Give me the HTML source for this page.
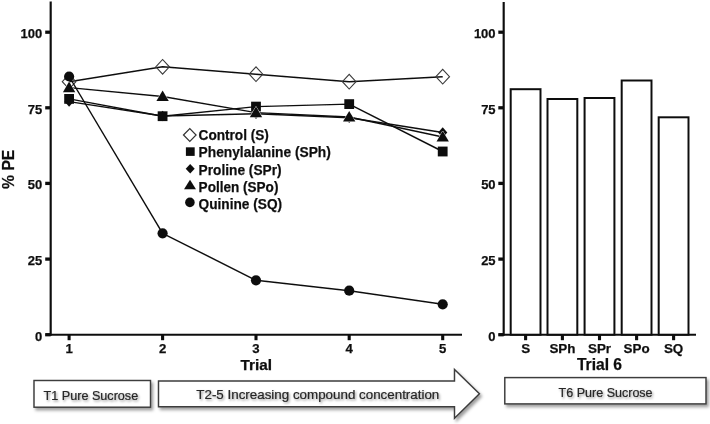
<!DOCTYPE html>
<html><head><meta charset="utf-8"><title>PE chart</title>
<style>
html,body{margin:0;padding:0;background:#fff;}
body{width:710px;height:424px;overflow:hidden;}
svg{display:block;}
text{font-family:"Liberation Sans",sans-serif;}
.b{font-weight:bold;fill:#111;stroke:#111;stroke-width:0.25px;}
.box{fill:#fff;stroke:#3c3c3c;stroke-width:1.45;}
.cap{fill:#262626;font-size:12.6px;stroke:#262626;stroke-width:0.2px;}
</style></head><body>
<svg width="710" height="424" viewBox="0 0 710 424">
<defs>
<filter id="sh" x="-10%" y="-30%" width="125%" height="170%"><feDropShadow dx="2" dy="2.5" stdDeviation="1.8" flood-color="#000" flood-opacity="0.38"/></filter>
<filter id="ts" x="-10%" y="-30%" width="125%" height="170%"><feDropShadow dx="1.2" dy="1.5" stdDeviation="1.1" flood-color="#000" flood-opacity="0.4"/></filter>
<filter id="soft"><feGaussianBlur stdDeviation="0.35"/></filter>
</defs>
<rect width="710" height="424" fill="#fff"/>
<g filter="url(#soft)">

<g stroke="#111" stroke-width="2.15" fill="none">
<path d="M50.7,1.5 V335.7"/>
<path d="M45.5,334.7 H462"/>
<path d="M45.2,334.7 H50.7" stroke-width="3.3"/>
<path d="M45.2,259.1 H50.7" stroke-width="3.3"/>
<path d="M45.2,183.4 H50.7" stroke-width="3.3"/>
<path d="M45.2,107.8 H50.7" stroke-width="3.3"/>
<path d="M45.2,32.2 H50.7" stroke-width="3.3"/>
<path d="M69.1,334.7 V340.2" stroke-width="3.1"/>
<path d="M162.6,334.7 V340.2" stroke-width="3.1"/>
<path d="M256.0,334.7 V340.2" stroke-width="3.1"/>
<path d="M349.2,334.7 V340.2" stroke-width="3.1"/>
<path d="M442.7,334.7 V340.2" stroke-width="3.1"/>
</g>
<text class="b" x="42.3" y="340.5" font-size="13" text-anchor="end">0</text>
<text class="b" x="42.3" y="264.9" font-size="13" text-anchor="end">25</text>
<text class="b" x="42.3" y="189.2" font-size="13" text-anchor="end">50</text>
<text class="b" x="42.3" y="113.6" font-size="13" text-anchor="end">75</text>
<text class="b" x="42.3" y="38.0" font-size="13" text-anchor="end">100</text>
<text class="b" x="69.1" y="353.3" font-size="13.2" text-anchor="middle">1</text>
<text class="b" x="162.6" y="353.3" font-size="13.2" text-anchor="middle">2</text>
<text class="b" x="256.0" y="353.3" font-size="13.2" text-anchor="middle">3</text>
<text class="b" x="349.2" y="353.3" font-size="13.2" text-anchor="middle">4</text>
<text class="b" x="442.7" y="353.3" font-size="13.2" text-anchor="middle">5</text>
<text class="b" x="256.3" y="370.2" font-size="15.3" text-anchor="middle">Trial</text>
<text class="b" transform="translate(14.2,169.3) rotate(-90)" font-size="15.7" text-anchor="middle">% PE</text>
<g fill="#111" stroke="none">
<polyline points="69.1,81.7 162.6,66.8 256.0,74.2 349.2,81.7 442.7,76.7" fill="none" stroke="#111" stroke-width="1.45" stroke-linejoin="round"/>
<path d="M62.3,81.7 L69.1,74.4 L75.89999999999999,81.7 L69.1,89.0 Z" fill="none" stroke="#3a3a3a" stroke-width="1.1"/>
<path d="M155.79999999999998,66.8 L162.6,59.5 L169.4,66.8 L162.6,74.1 Z" fill="none" stroke="#3a3a3a" stroke-width="1.1"/>
<path d="M249.2,74.2 L256.0,66.9 L262.8,74.2 L256.0,81.5 Z" fill="none" stroke="#3a3a3a" stroke-width="1.1"/>
<path d="M342.4,81.7 L349.2,74.4 L356.0,81.7 L349.2,89.0 Z" fill="none" stroke="#3a3a3a" stroke-width="1.1"/>
<path d="M435.9,76.7 L442.7,69.4 L449.5,76.7 L442.7,84.0 Z" fill="none" stroke="#3a3a3a" stroke-width="1.1"/>
<polyline points="69.1,98.9 162.6,116.2 256.0,106.6 349.2,104.1 442.7,151.5" fill="none" stroke="#111" stroke-width="1.45" stroke-linejoin="round"/>
<rect x="64.2" y="94.0" width="9.8" height="9.8"/>
<rect x="157.7" y="111.3" width="9.8" height="9.8"/>
<rect x="251.1" y="101.7" width="9.8" height="9.8"/>
<rect x="344.3" y="99.2" width="9.8" height="9.8"/>
<rect x="437.8" y="146.6" width="9.8" height="9.8"/>
<polyline points="69.1,101.6 162.6,116.0 256.0,113.8 349.2,117.8 442.7,132.5" fill="none" stroke="#111" stroke-width="1.45" stroke-linejoin="round"/>
<path d="M64.5,101.6 L69.1,96.39999999999999 L73.69999999999999,101.6 L69.1,106.8 Z"/>
<path d="M158.0,116.0 L162.6,110.8 L167.2,116.0 L162.6,121.2 Z"/>
<path d="M251.4,113.8 L256.0,108.6 L260.6,113.8 L256.0,119.0 Z"/>
<path d="M344.59999999999997,117.8 L349.2,112.6 L353.8,117.8 L349.2,123.0 Z"/>
<path d="M438.09999999999997,132.5 L442.7,127.3 L447.3,132.5 L442.7,137.7 Z"/>
<polyline points="69.1,87.6 162.6,96.5 256.0,112.6 349.2,117.0 442.7,137.0" fill="none" stroke="#111" stroke-width="1.45" stroke-linejoin="round"/>
<path d="M62.9,92.2 L69.1,81.6 L75.3,92.2 Z" stroke="#fff" stroke-width="0.9" paint-order="stroke"/>
<path d="M156.4,101.1 L162.6,90.5 L168.8,101.1 Z" stroke="#fff" stroke-width="0.9" paint-order="stroke"/>
<path d="M249.8,117.2 L256.0,106.6 L262.2,117.2 Z" stroke="#fff" stroke-width="0.9" paint-order="stroke"/>
<path d="M343.0,121.6 L349.2,111.0 L355.4,121.6 Z" stroke="#fff" stroke-width="0.9" paint-order="stroke"/>
<path d="M436.5,141.6 L442.7,131.0 L448.9,141.6 Z" stroke="#fff" stroke-width="0.9" paint-order="stroke"/>
<polyline points="69.1,76.5 162.6,233.3 256.0,280.3 349.2,290.7 442.7,304.3" fill="none" stroke="#111" stroke-width="1.45" stroke-linejoin="round"/>
<circle cx="69.1" cy="76.5" r="5.1"/>
<circle cx="162.6" cy="233.3" r="5.1"/>
<circle cx="256.0" cy="280.3" r="5.1"/>
<circle cx="349.2" cy="290.7" r="5.1"/>
<circle cx="442.7" cy="304.3" r="5.1"/>
</g>
<path d="M183.5,135.0 L189.8,128.6 L196.10000000000002,135.0 L189.8,141.4 Z" fill="#fff" stroke="#333" stroke-width="1.2"/>
<rect x="185.9" y="147.3" width="8.8" height="8.6" fill="#111"/>
<path d="M185.7,168.8 L190.2,164.10000000000002 L194.7,168.8 L190.2,173.5 Z" fill="#111"/>
<path d="M184.0,189.2 L190.0,179.7 L196.0,189.2 Z" fill="#111"/>
<circle cx="189.89999999999998" cy="202.4" r="4.8" fill="#111"/>
<text class="b" x="198.6" y="140.0" font-size="14" textLength="70.3" lengthAdjust="spacingAndGlyphs">Control (S)</text>
<text class="b" x="198.6" y="156.9" font-size="14" textLength="132.2" lengthAdjust="spacingAndGlyphs">Phenylalanine (SPh)</text>
<text class="b" x="198.6" y="174.7" font-size="14" textLength="83" lengthAdjust="spacingAndGlyphs">Proline (SPr)</text>
<text class="b" x="198.6" y="192.2" font-size="14" textLength="79.8" lengthAdjust="spacingAndGlyphs">Pollen (SPo)</text>
<text class="b" x="198.6" y="209.0" font-size="14" textLength="83.5" lengthAdjust="spacingAndGlyphs">Quinine (SQ)</text>
<g stroke="#111" stroke-width="2.15" fill="none">
<path d="M503.7,2 V335.7"/>
<path d="M498.6,334.7 H696"/>
<path d="M498.3,334.7 H503.7" stroke-width="3.3"/>
<path d="M498.3,259.1 H503.7" stroke-width="3.3"/>
<path d="M498.3,183.4 H503.7" stroke-width="3.3"/>
<path d="M498.3,107.8 H503.7" stroke-width="3.3"/>
<path d="M498.3,32.2 H503.7" stroke-width="3.3"/>
<path d="M525.6,334.7 V340.2" stroke-width="3.1"/>
<path d="M562.4,334.7 V340.2" stroke-width="3.1"/>
<path d="M599.5,334.7 V340.2" stroke-width="3.1"/>
<path d="M636.6,334.7 V340.2" stroke-width="3.1"/>
<path d="M673.6,334.7 V340.2" stroke-width="3.1"/>
</g>
<g stroke="#111" stroke-width="2" fill="#fff">
<rect x="510.70000000000005" y="89.2" width="29.8" height="245.5"/>
<rect x="547.5" y="99.0" width="29.8" height="235.7"/>
<rect x="584.6" y="98.0" width="29.8" height="236.7"/>
<rect x="621.7" y="80.5" width="29.8" height="254.2"/>
<rect x="658.7" y="117.3" width="29.8" height="217.4"/>
</g>
<text class="b" x="495.6" y="340.5" font-size="13" text-anchor="end">0</text>
<text class="b" x="495.6" y="264.9" font-size="13" text-anchor="end">25</text>
<text class="b" x="495.6" y="189.2" font-size="13" text-anchor="end">50</text>
<text class="b" x="495.6" y="113.6" font-size="13" text-anchor="end">75</text>
<text class="b" x="495.6" y="38.0" font-size="13" text-anchor="end">100</text>
<text class="b" x="525.6" y="352.8" font-size="13.4" text-anchor="middle">S</text>
<text class="b" x="562.4" y="352.8" font-size="13.4" text-anchor="middle">SPh</text>
<text class="b" x="599.5" y="352.8" font-size="13.4" text-anchor="middle">SPr</text>
<text class="b" x="636.6" y="352.8" font-size="13.4" text-anchor="middle">SPo</text>
<text class="b" x="673.6" y="352.8" font-size="13.4" text-anchor="middle">SQ</text>
<text class="b" x="599.5" y="370.1" font-size="15.6" text-anchor="middle">Trial 6</text>
</g>
<g filter="url(#sh)">
<rect class="box" x="34" y="380.5" width="116.5" height="26.7"/>
<path class="box" d="M158.5,380.9 H454.5 V369.4 L479.4,393.8 L454.5,418.2 V406.7 H158.5 Z" stroke-linejoin="miter"/>
<rect class="box" x="504.8" y="377.6" width="201.2" height="26.3"/>
</g>
<g filter="url(#ts)">
<text class="cap" x="43.6" y="399.5" textLength="94.6" lengthAdjust="spacingAndGlyphs">T1 Pure Sucrose</text>
<text class="cap" x="196.3" y="399" textLength="243" lengthAdjust="spacingAndGlyphs">T2-5 Increasing compound concentration</text>
<text class="cap" x="558.6" y="397" textLength="94" lengthAdjust="spacingAndGlyphs">T6 Pure Sucrose</text>
</g>
</svg>
</body></html>
